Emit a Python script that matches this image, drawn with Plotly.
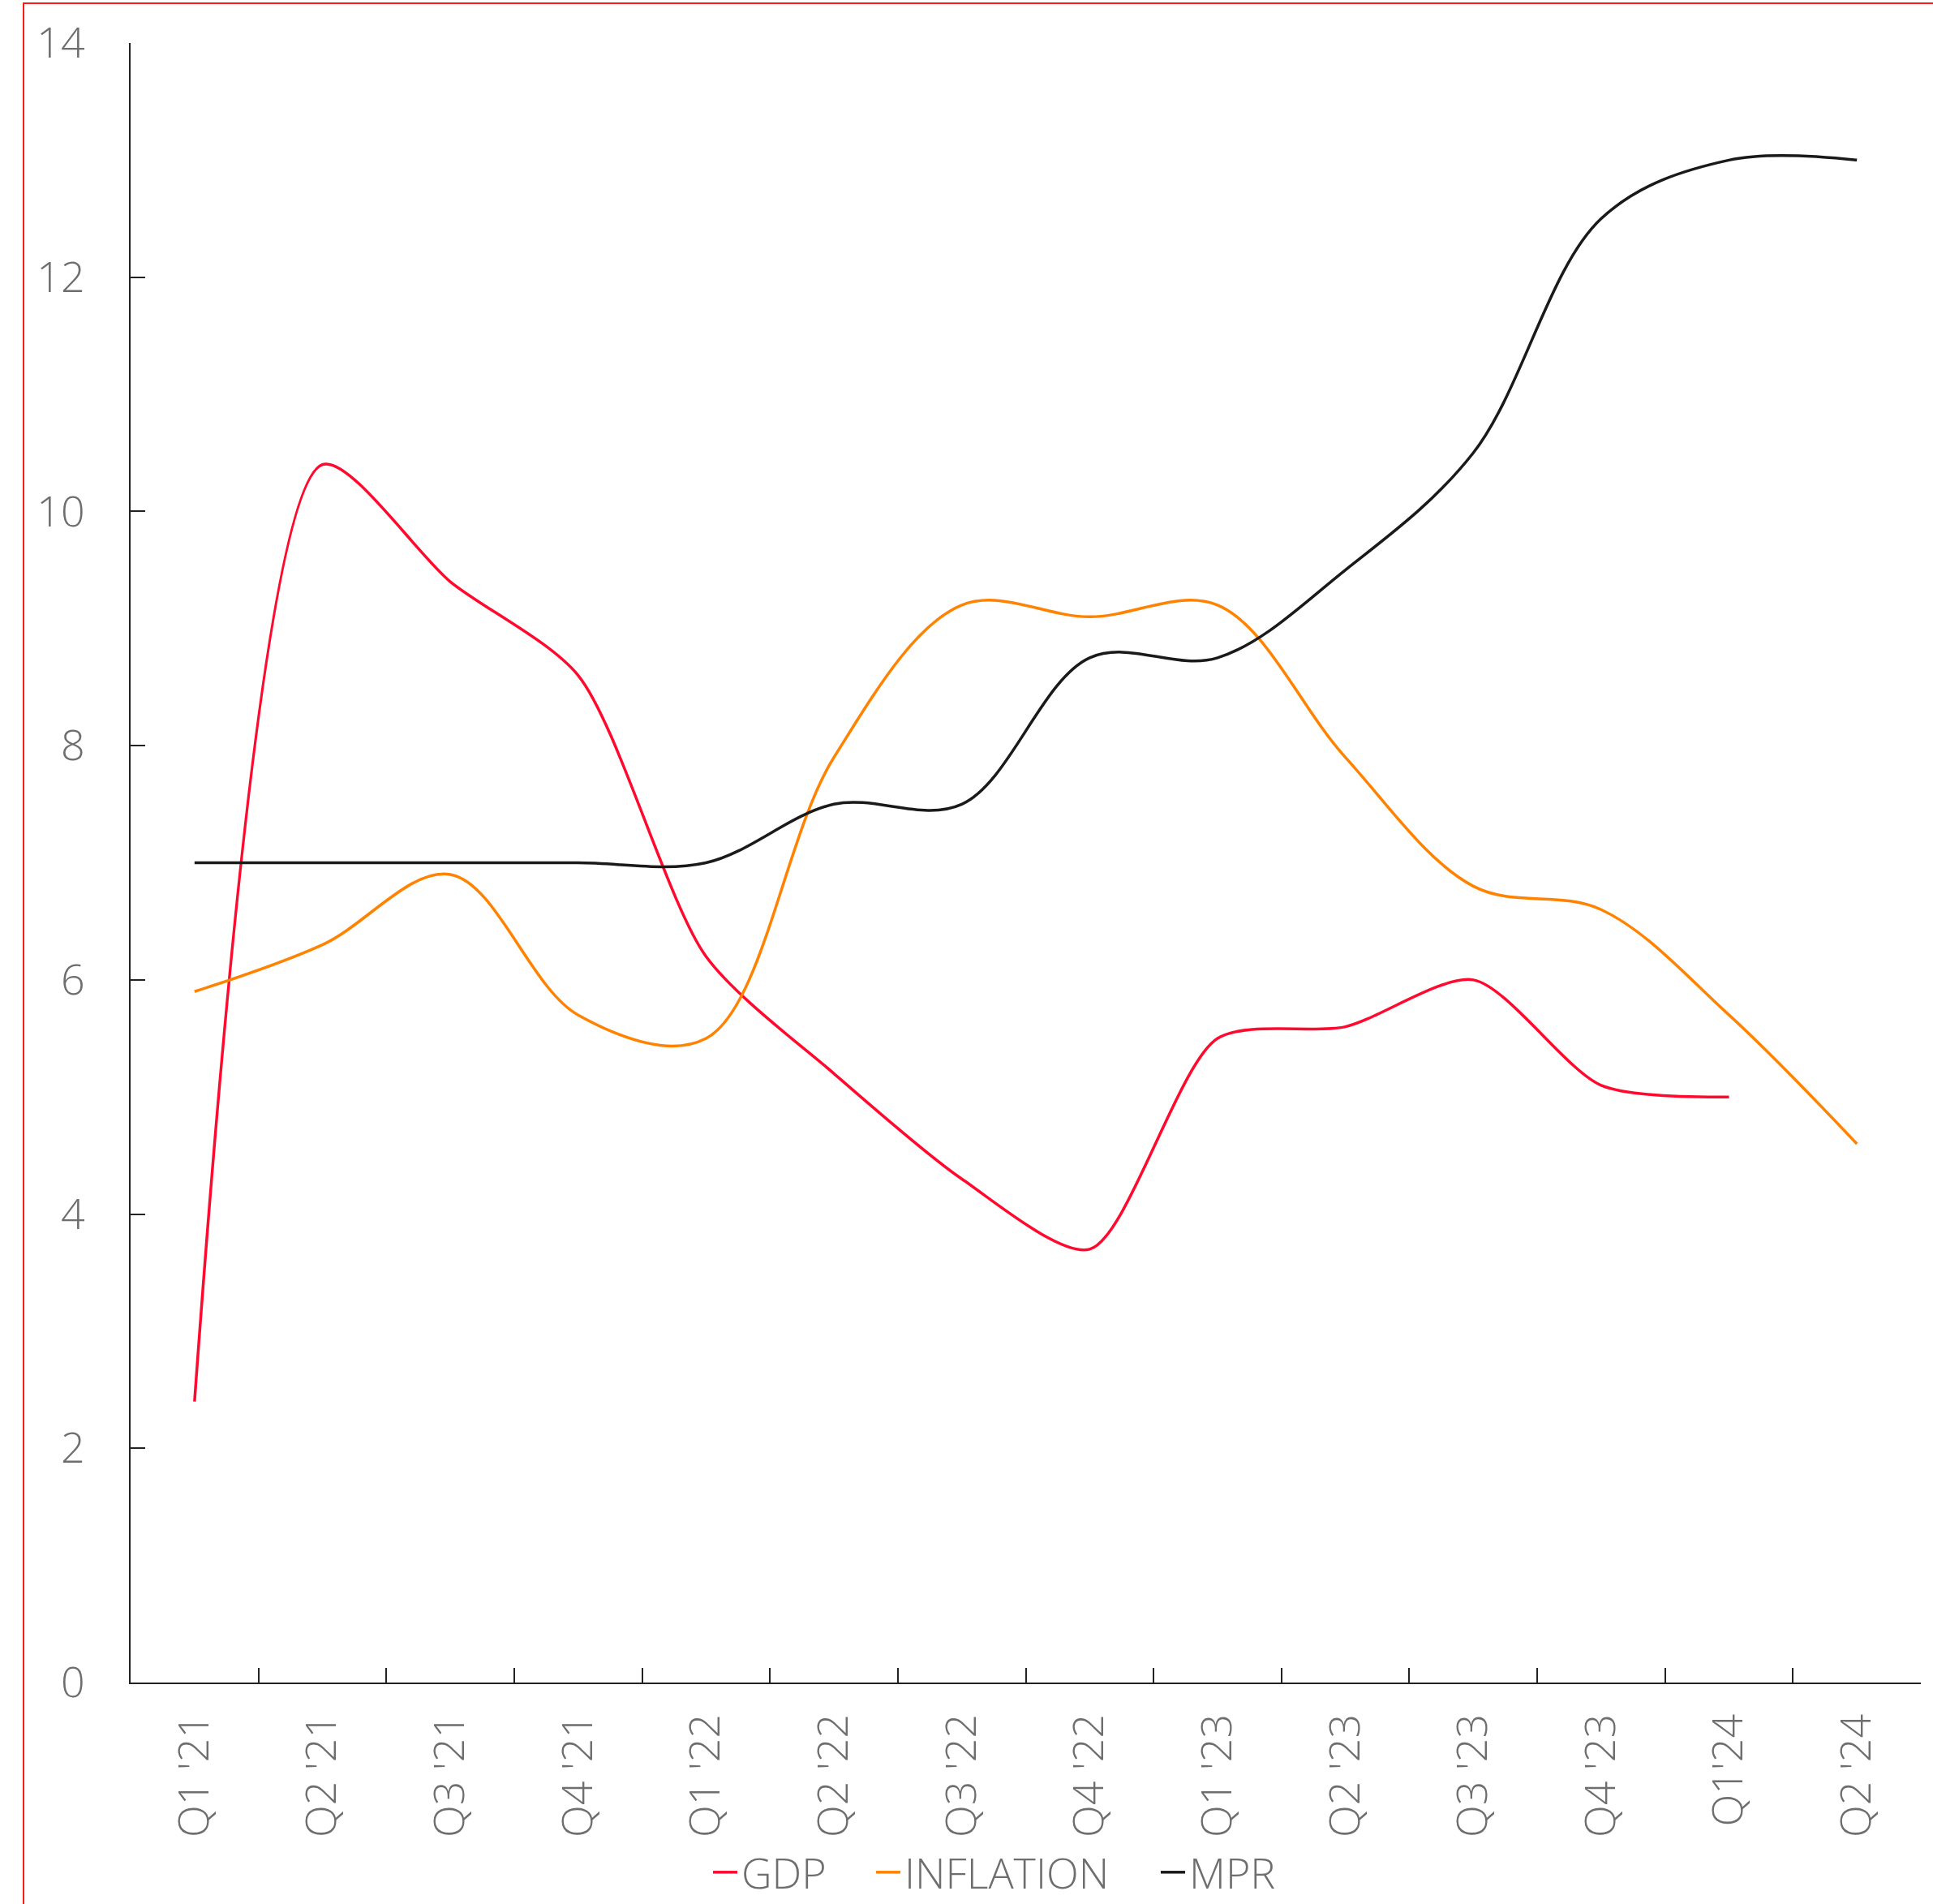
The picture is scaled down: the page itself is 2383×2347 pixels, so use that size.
import plotly.graph_objects as go

quarters = ["Q1 '21", "Q2 '21", "Q3 '21", "Q4 '21", "Q1 '22", "Q2 '22", "Q3 '22",
            "Q4 '22", "Q1 '23", "Q2 '23", "Q3 '23", "Q4 '23", "Q1'24", "Q2 '24"]
gdp = [2.4, 10.4, 9.4, 8.6, 6.2, 5.2, 4.3, 3.7, 5.5, 5.6, 6.0, 5.1, 5.0, None]
inflation = [5.9, 6.3, 6.9, 5.7, 5.5, 7.9, 9.2, 9.1, 9.2, 7.9, 6.8, 6.6, 5.7, 4.6]
mpr = [7.0, 7.0, 7.0, 7.0, 7.0, 7.5, 7.5, 8.75, 8.75, 9.5, 10.5, 12.5, 13.0, 13.0]
y_ticks = [0, 2, 4, 6, 8, 10, 12, 14]

series = [("GDP", gdp, "#FF0A2E", 0.75), ("INFLATION", inflation, "#FF8200", 1.0),
          ("MPR", mpr, "#1A1A1A", 1.0)]
legend_text_start_px = [916, 1117, 1468]

TXT = "#6E6E6E"
FONT = "Open Sans"

W, H = 2383, 2347
L, R, T, B = 161, 15, 53, 273
pw, ph = W - L - R, H - T - B


def px_x(p):
    return (p - L) / pw


def px_y(p):
    return (H - B - p) / ph


fig = go.Figure()
legend_ids = ["legend", "legend2", "legend3"]
for (name, vals, col, sm), lid in zip(series, legend_ids):
    fig.add_trace(go.Scatter(
        x=quarters, y=vals, name=name, mode="lines",
        line=dict(color=col, width=3.5, shape="spline", smoothing=sm),
        connectgaps=False, legend=lid,
    ))

legend_common = dict(
    orientation="h", yanchor="middle", y=px_y(2308), xanchor="left",
    font=dict(family=FONT, size=52, color=TXT, weight=300),
    bgcolor="rgba(0,0,0,0)", borderwidth=0, itemwidth=30,
)
legends = {}
for lid, ts in zip(legend_ids, legend_text_start_px):
    legends[lid] = dict(legend_common, x=px_x(ts - 42))

fig.update_layout(
    width=W, height=H,
    margin=dict(l=L, r=R, t=T, b=B, pad=0, autoexpand=False),
    paper_bgcolor="white", plot_bgcolor="white",
    font=dict(family=FONT, size=52, color=TXT, weight=300),
    showlegend=True,
    xaxis=dict(
        type="category", categoryorder="array", categoryarray=quarters,
        range=[-0.5, len(quarters) - 0.5],
        showline=True, linecolor="#222222", linewidth=2,
        ticks="inside", ticklen=18, tickwidth=2, tickcolor="#222222",
        tickson="boundaries", tickangle=-90,
        tickfont=dict(family=FONT, size=52, color=TXT, weight=300),
        ticklabelstandoff=16, automargin=False,
        showgrid=False, zeroline=False, fixedrange=True,
    ),
    yaxis=dict(
        range=[0, 14], tickvals=y_ticks, ticktext=[str(v) for v in y_ticks],
        showline=True, linecolor="#222222", linewidth=2,
        ticks="inside", ticklen=18, tickwidth=2, tickcolor="#222222",
        tickfont=dict(family=FONT, size=52, color=TXT, weight=300),
        ticklabelstandoff=44, automargin=False,
        showgrid=False, zeroline=False, fixedrange=True,
    ),
    shapes=[dict(
        type="rect", xref="paper", yref="paper",
        x0=px_x(29), x1=px_x(2450), y0=px_y(2420), y1=px_y(4),
        line=dict(color="#FF1A1A", width=2), fillcolor="rgba(0,0,0,0)", layer="above",
    )],
    **legends,
)

fig.write_html("out.html")
